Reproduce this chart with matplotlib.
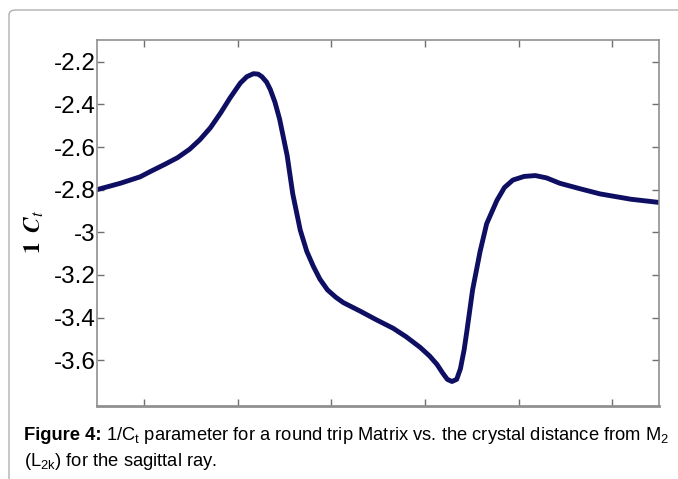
import matplotlib
matplotlib.use("Agg")
import matplotlib.pyplot as plt
from matplotlib.patches import FancyBboxPatch

# Valeurs (distance du cristal, 1/Ct)
distance = [0.0, 0.25, 0.46, 0.57, 0.73, 0.86, 0.99, 1.10, 1.21, 1.32, 1.42,
            1.53, 1.60, 1.67, 1.72, 1.76, 1.81, 1.85, 1.90, 1.95, 2.03, 2.09,
            2.17, 2.24, 2.31, 2.38, 2.46, 2.55, 2.63, 2.72, 2.81, 2.98, 3.16,
            3.30, 3.45, 3.55, 3.63, 3.69, 3.74, 3.79, 3.84, 3.88, 3.92, 3.95,
            4.01, 4.09, 4.16, 4.27, 4.35, 4.44, 4.56, 4.68, 4.80, 4.94, 5.15,
            5.37, 5.70, 6.0]
inv_ct = [-2.80, -2.77, -2.74, -2.715, -2.68, -2.65, -2.61, -2.565, -2.51,
          -2.44, -2.37, -2.30, -2.27, -2.256, -2.258, -2.27, -2.295, -2.33,
          -2.39, -2.47, -2.64, -2.82, -2.99, -3.09, -3.16, -3.22, -3.27, -3.305,
          -3.33, -3.35, -3.37, -3.41, -3.45, -3.49, -3.54, -3.58, -3.62, -3.66,
          -3.69, -3.70, -3.69, -3.64, -3.55, -3.46, -3.27, -3.09, -2.96, -2.85,
          -2.79, -2.755, -2.738, -2.734, -2.745, -2.77, -2.795, -2.82, -2.845,
          -2.86]

xticks = [0.5, 1.5, 2.5, 3.5, 4.5, 5.5]
yticks = [-3.6, -3.4, -3.2, -3.0, -2.8, -2.6, -2.4, -2.2]
ytick_labels = ["-3.6", "-3.4", "-3.2", "-3", "-2.8", "-2.6", "-2.4", "-2.2"]

plt.rcParams["font.family"] = ["Liberation Sans", "DejaVu Sans"]
plt.rcParams["mathtext.fontset"] = "custom"
plt.rcParams["mathtext.rm"] = "Liberation Sans"
plt.rcParams["mathtext.it"] = "Liberation Sans:italic"
plt.rcParams["mathtext.bf"] = "Liberation Sans:bold"

fig = plt.figure(figsize=(6.78, 4.79), dpi=100)

# cadre arrondi autour de la figure
cadre = FancyBboxPatch((9 / 678, -0.1), 1.2, 1.1 - 10 / 479,
                       boxstyle="round,pad=0,rounding_size=0.01",
                       transform=fig.transFigure, fill=False,
                       edgecolor="#b0b0b0", linewidth=1.0)
fig.patches.append(cadre)

ax = fig.add_axes([97 / 678, 1 - 406 / 479, 562 / 678, 366 / 479])
ax.plot(distance, inv_ct, color="#0e0e62", linewidth=3.5,
        solid_capstyle="round", solid_joinstyle="round")

ax.set_xlim(0, 6)
ax.set_ylim(-3.815, -2.098)
ax.set_xticks(xticks)
ax.set_xticklabels([])
ax.set_yticks(yticks)
ax.set_yticklabels(ytick_labels, fontsize=17.5)
ax.tick_params(direction="in", length=5, width=1, color="#707070",
               top=True, right=True, pad=1)

for cote in ["left", "right", "top"]:
    ax.spines[cote].set_color("#909090")
    ax.spines[cote].set_linewidth(1.2)
ax.spines["bottom"].set_color("#909090")
ax.spines["bottom"].set_linewidth(2.0)

fig.text(34 / 678, 1 - 232 / 479, r"$\mathbf{1}\;\;\mathbfit{C}_{t}$",
         rotation=90, fontsize=17, ha="center", va="center",
         math_fontfamily="stix")

# légende de la figure : "Figure 4:" en gras puis le reste
taille = 13.2
y1 = 1 - 436 / 479
gras = fig.text(24 / 678, y1, "Figure 4:", fontsize=taille, fontweight="bold",
                ha="left", va="center")
rend = fig.canvas.get_renderer()
bb = gras.get_window_extent(renderer=rend)
fig.text(bb.x1 / 678 + 4 / 678, y1,
         r"1/C$_\mathrm{t}$ parameter for a round trip Matrix vs. the crystal distance from M$_\mathrm{2}$",
         fontsize=taille, ha="left", va="center")
fig.text(24 / 678, 1 - 461 / 479,
         r"(L$_\mathrm{2k}$) for the sagittal ray.",
         fontsize=taille, ha="left", va="center")

fig.savefig("out.png", dpi=100)
